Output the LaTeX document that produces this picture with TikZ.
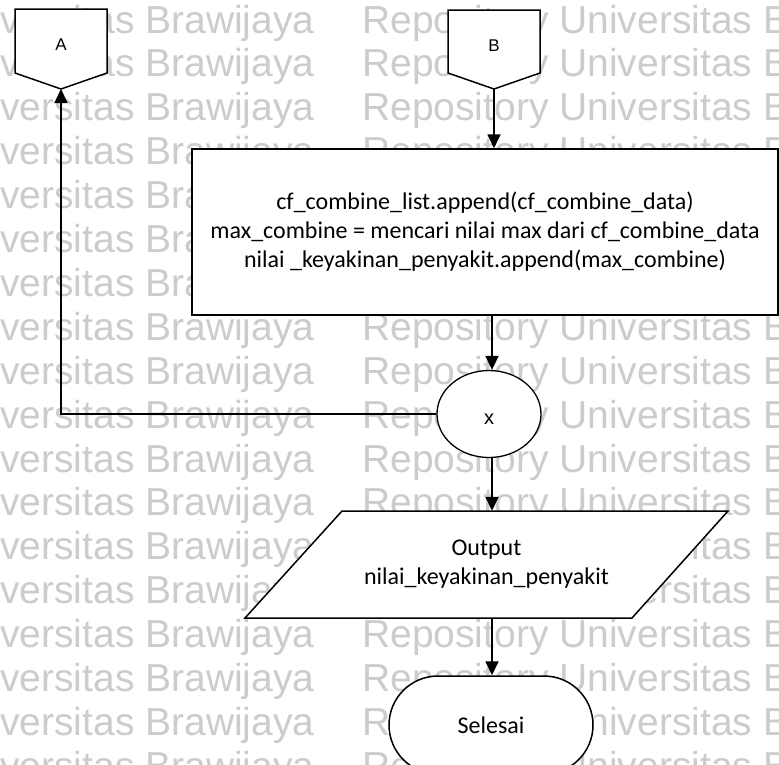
\documentclass[tikz,border=0pt]{standalone}
\usepackage{fontspec}
\setmainfont{Carlito}
\newfontfamily\wmfont{Liberation Sans}
\usetikzlibrary{arrows.meta,shapes.geometric}

\tikzset{
  wmark/.style={anchor=base west, inner sep=0pt, text=black!20,
                font=\wmfont\fontsize{39}{44}\selectfont},
  shapeline/.style={draw=black, line width=1.5pt, fill=white, line join=miter},
  arr/.style={draw=black, line width=1.8pt,
              -{Triangle[length=14pt,width=13pt]}},
  lbl/.style={inner sep=0pt, font=\wmfont\fontsize{17}{20}\selectfont},
  body/.style={align=center, inner sep=0pt,
               font=\fontsize{24}{29}\selectfont},
}

\begin{document}
\begin{tikzpicture}[x=1pt, y=-1pt]
  \useasboundingbox (0,0) rectangle (779,764);
  \fill[white] (0,0) rectangle (779,764);

  % repeated background watermark
  \foreach \k in {0,...,17}{
    \node[wmark] (wl\k) at (0,33+43.9*\k) {versitas Brawijaya};
    \node[wmark] (wr\k) at (362,33+43.9*\k) {Repository Universitas Brawijaya};
  }

  % main column of the flow
  \coordinate (col) at (492,0);

  % off-page connectors A and B
  \draw[shapeline] (15,9) -- (107,9) -- (107,73) -- (61,89) -- (15,73) -- cycle;
  \node[lbl] (A) at (61,45) {A};
  \coordinate (Atip) at (61,89);

  \draw[shapeline] (448,10) -- (540,10) -- (540,73) -- (494,89) -- (448,73) -- cycle;
  \node[lbl] (B) at (494,46) {B};
  \coordinate (Btip) at (494,89);

  % process box
  \node[shapeline, body, minimum width=586pt, minimum height=166pt] (proc) at (485,232)
    {cf\_combine\_list.append(cf\_combine\_data)\\
     max\_combine = mencari nilai max dari cf\_combine\_data\\
     nilai \_keyakinan\_penyakit.append(max\_combine)};

  % connector x
  \node[draw=black, line width=1.3pt, fill=white, ellipse, inner sep=0pt,
        minimum width=104pt, minimum height=87pt] (xc) at (489,414) {};
  \node[lbl, font=\wmfont\fontsize{20}{22}\selectfont] (xl) at (489,419) {x};

  % output parallelogram
  \draw[shapeline] (342,511) -- (728,511) -- (632,618) -- (245,618) -- cycle;
  \node[body, minimum height=107pt, minimum width=300pt] (outp) at (486.5,564.5)
    {Output\\nilai\_keyakinan\_penyakit};

  % terminator
  \node[shapeline, body, rounded corners=49pt, minimum width=204pt,
        minimum height=98pt] (sel) at (491,725) {Selesai};

  % connectors
  \draw[arr] (Btip) -- (Btip |- proc.north);
  \draw[arr] (proc.south -| col) -- (col |- xc.north);
  \draw[arr] (xc.west) -| (Atip);
  \draw[arr] (col |- xc.south) -- (col |- outp.north);
  \draw[arr] (col |- outp.south) -- (col |- sel.north);
\end{tikzpicture}
\end{document}
